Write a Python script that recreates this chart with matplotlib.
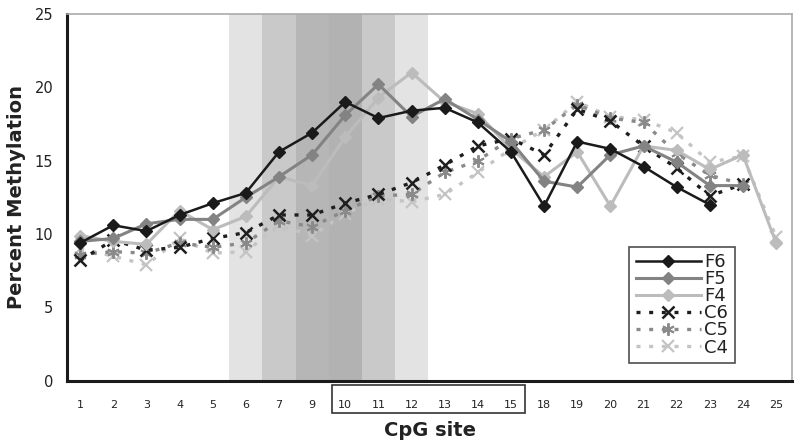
import numpy as np
import matplotlib
matplotlib.use("Agg")
import matplotlib.pyplot as plt
from matplotlib.patches import Rectangle
import matplotlib.transforms as mtransforms

# CpG sites on the x axis
sites = ["1", "2", "3", "4", "5", "6", "7", "9", "10", "11", "12", "13", "14", "15",
         "18", "19", "20", "21", "22", "23", "24", "25"]

nan = np.nan
f6 = [9.4, 10.6, 10.2, 11.3, 12.1, 12.8, 15.6, 16.9, 19.0, 17.9, 18.4, 18.6, 17.6, 15.6,
      11.9, 16.3, 15.8, 14.6, 13.2, 12.0, nan, nan]
f5 = [9.5, 9.7, 10.7, 11.0, 11.0, 12.5, 13.9, 15.4, 18.1, 20.2, 18.0, 19.2, 17.8, 16.3,
      13.6, 13.2, 15.4, 16.0, 14.9, 13.3, 13.3, nan]
f4 = [9.9, 9.5, 9.3, 11.6, 10.3, 11.2, 13.9, 13.3, 16.6, 19.3, 21.0, 19.0, 18.2, 15.8,
      13.9, 15.6, 11.9, 16.0, 15.7, 14.4, 15.4, 9.4]
c6 = [8.2, 9.6, 8.9, 9.1, 9.7, 10.1, 11.3, 11.3, 12.1, 12.7, 13.5, 14.7, 16.0, 16.5,
      15.4, 18.5, 17.7, 16.0, 14.5, 12.6, 13.4, nan]
c5 = [8.6, 8.8, 8.7, 9.4, 9.1, 9.4, 10.9, 10.5, 11.6, 12.6, 12.7, 14.2, 15.0, 16.5,
      17.1, 18.8, 17.9, 17.6, 15.5, 14.0, 13.4, nan]
c4 = [9.0, 8.5, 7.9, 9.7, 8.7, 8.8, 10.6, 9.9, 11.4, 12.4, 12.2, 12.7, 14.2, 15.8,
      17.1, 19.0, 18.0, 17.8, 16.9, 14.9, 15.3, 9.8]

# shaded band colours for sites 6..12
band_idx = [5, 6, 7, 8, 9, 10]
band_col = ["#e3e3e3", "#c9c9c9", "#b6b6b6", "#b2b2b2", "#c9c9c9", "#e3e3e3"]

x = np.arange(len(sites))

fig = plt.figure(figsize=(8, 4.46), dpi=100)
ax = fig.add_axes([0.084, 0.146, 0.906, 0.823])

for i, c in zip(band_idx, band_col):
    ax.axvspan(i - 0.5, i + 0.5, color=c, lw=0, zorder=0)

dots = (0, (1.2, 2.6))
ax.plot(x, c4, color="#c4c4c4", ls=dots, lw=2.4, marker="x", ms=8, mew=1.6, label="C4", zorder=2)
ax.plot(x, c5, color="#8a8a8a", ls=dots, lw=2.4, marker=(6, 2, 0), ms=9, mew=1.4, label="C5", zorder=2)
ax.plot(x, c6, color="#1e1e1e", ls=dots, lw=2.4, marker="x", ms=8, mew=1.8, label="C6", zorder=3)
ax.plot(x, f4, color="#bcbcbc", lw=2.2, marker="D", ms=6, label="F4", zorder=4)
ax.plot(x, f5, color="#838383", lw=2.2, marker="D", ms=6, label="F5", zorder=5)
ax.plot(x, f6, color="#1a1a1a", lw=1.8, marker="D", ms=6, label="F6", zorder=6)

ax.set_xlim(-0.39, 21.48)
ax.set_ylim(0, 25)
ax.set_yticks([0, 5, 10, 15, 20, 25])
ax.set_xticks(x)
ax.set_xticklabels(sites, fontsize=8, color="#222222")
ax.tick_params(axis="x", length=0, pad=14)
ax.tick_params(axis="y", length=0, pad=10, labelsize=10.5, labelcolor="#222222")

for s in ["top", "right"]:
    ax.spines[s].set_color("#aaaaaa")
    ax.spines[s].set_linewidth(1.2)
for s in ["left", "bottom"]:
    ax.spines[s].set_color("#1a1a1a")
    ax.spines[s].set_linewidth(2.2)

ax.set_ylabel("Percent Methylation", fontsize=14, fontweight="bold", color="#222222", labelpad=6)
ax.set_xlabel("CpG site", fontsize=14, fontweight="bold", color="#222222", labelpad=8)

# box around tick labels 10-15
trans = mtransforms.blended_transform_factory(ax.transData, ax.transAxes)
ax.add_patch(Rectangle((7.6, -0.087), 13.43 - 7.6, 0.076, transform=trans,
                       fill=False, ec="#333333", lw=1.2, clip_on=False))

h, l = ax.get_legend_handles_labels()
order = [5, 4, 3, 2, 1, 0]
leg = ax.legend([h[i] for i in order], [l[i] for i in order], loc="lower right",
                bbox_to_anchor=(0.921, 0.049), fontsize=13, frameon=True, fancybox=False,
                edgecolor="#222222", handlelength=3.6, handletextpad=0.2,
                labelspacing=-0.05, borderpad=0.35, borderaxespad=0)
leg.get_frame().set_linewidth(1.2)
for t in leg.get_texts():
    t.set_color("#222222")

fig.savefig("out.png", dpi=100)
